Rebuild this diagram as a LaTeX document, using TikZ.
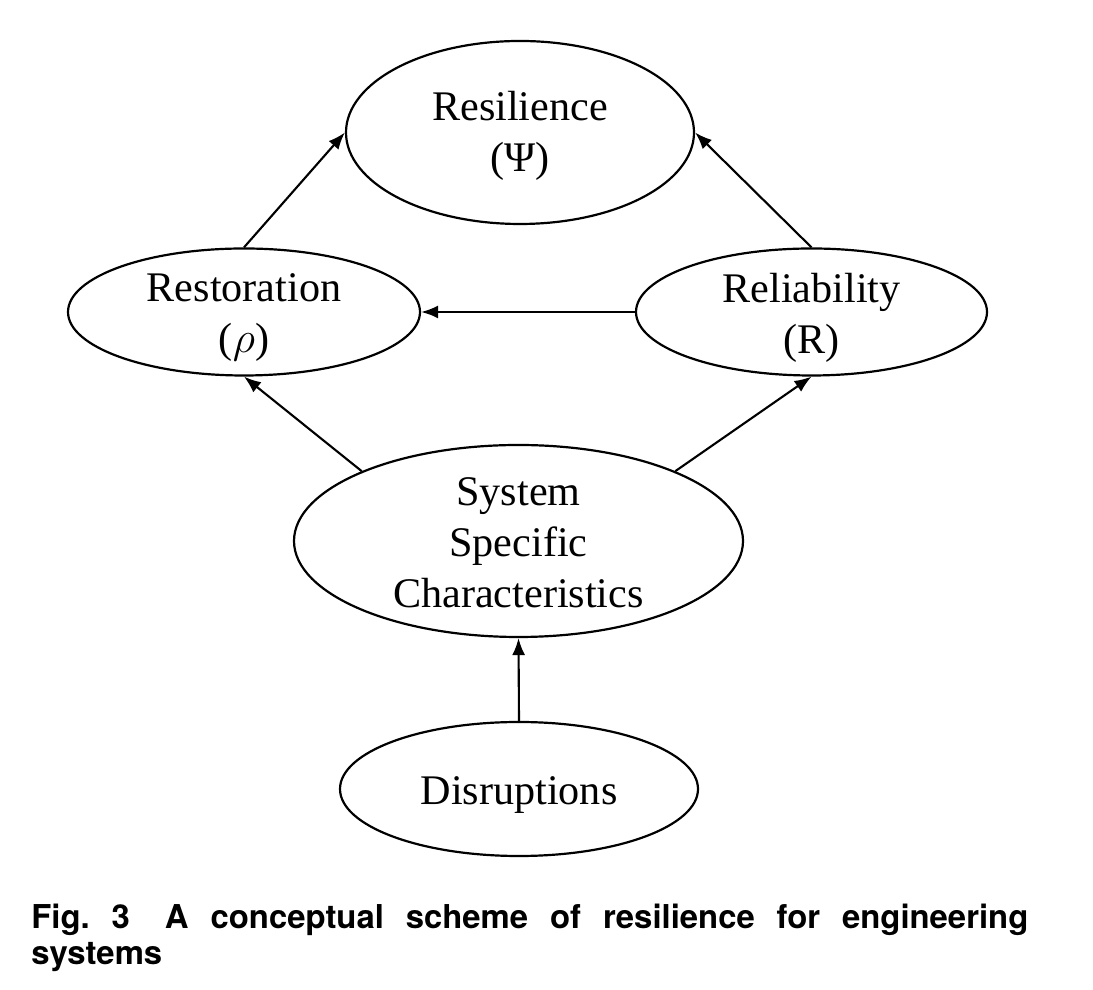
\documentclass[tikz,border=0pt]{standalone}
\usepackage{fontspec}
\setmainfont{Liberation Serif}
\newfontfamily\captionfont{TeX Gyre Heros}
\usetikzlibrary{arrows.meta,shapes.geometric}

\begin{document}
\begin{tikzpicture}[
    oval/.style={draw, ellipse, line width=1.25pt, inner sep=0pt},
    ovaltext/.style={align=center, inner sep=0pt, font=\fontsize{24}{29}\selectfont},
    captext/.style={inner sep=0pt, text width=19.94cm, align=justify, font=\captionfont\bfseries\fontsize{18.7}{20.5}\selectfont},
    arrow/.style={-{Latex[length=3.4mm, width=2.6mm]}, line width=1.2pt}
]
\useasboundingbox (0,0) rectangle (21.86,19.78);

% ellipses
\node[oval, minimum width=6.96cm, minimum height=3.66cm] (resilience) at (10.40,17.13) {};
\node[oval, minimum width=7.04cm, minimum height=2.54cm] (restoration) at (4.88,13.54) {};
\node[oval, minimum width=7.02cm, minimum height=2.54cm] (reliability) at (16.23,13.54) {};
\node[oval, minimum width=8.98cm, minimum height=3.84cm] (ssc) at (10.37,8.96) {};
\node[oval, minimum width=7.16cm, minimum height=2.68cm] (disruptions) at (10.38,4.00) {};

% texts
\node[ovaltext, yshift=-0.06cm] (resilience-txt) at (resilience) {Resilience\\(Ψ)};
\node[ovaltext, yshift=-0.12cm] (restoration-txt) at (restoration) {Restoration\\($\rho$)};
\node[ovaltext, yshift=-0.12cm] (reliability-txt) at (reliability) {Reliability\\(R)};
\node[ovaltext, yshift=-0.04cm] (ssc-txt) at (ssc) {System\\Specific\\Characteristics};
\node[ovaltext, yshift=-0.13cm] (disruptions-txt) at (disruptions) {Disruptions};

% arrows
\draw[arrow] (restoration.north) -- (resilience.west);
\draw[arrow] (reliability.north) -- (resilience.east);
\draw[arrow] (reliability.west) -- (restoration.east);
\draw[arrow] (ssc.156) -- (restoration.south);
\draw[arrow] (ssc.24) -- (reliability.south);
\draw[arrow] (disruptions.north) -- (ssc.south);

% caption
\node[captext, anchor=north west] (caption) at (0.62,1.70) {\tolerance=10000\hyphenpenalty=10000 Fig.\ 3\hspace{0.4em} A conceptual scheme of resilience for engineering \mbox{systems}};
\end{tikzpicture}
\end{document}
